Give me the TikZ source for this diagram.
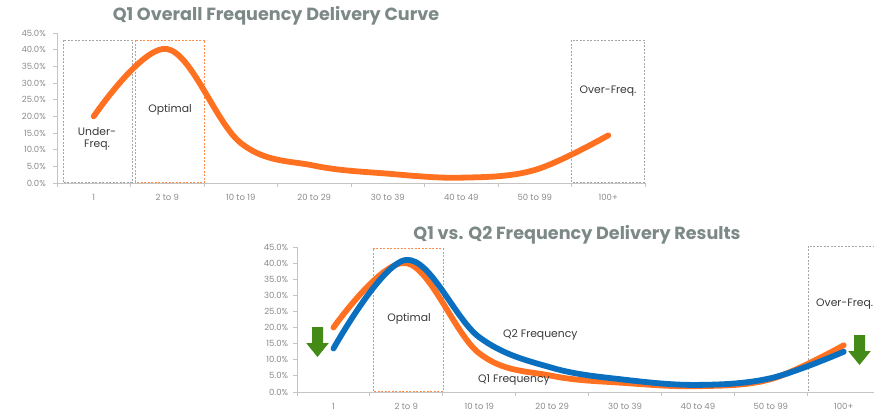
\documentclass[tikz,border=0pt]{standalone}
\usepackage{fontspec}
\setmainfont{Poppins}
\usepackage{xcolor}
\usepackage{tikz}
\usetikzlibrary{arrows.meta}
\usetikzlibrary{positioning}

\definecolor{freqorange}{HTML}{FF7121}
\definecolor{freqblue}{HTML}{0B6FBF}
\definecolor{arrowgreen}{HTML}{438B16}
\definecolor{titlegray}{HTML}{7D8987}
\definecolor{axisgray}{HTML}{C4C4C4}
\definecolor{labelgray}{HTML}{8A8A8A}
\definecolor{notegray}{HTML}{383838}
\definecolor{boxgray}{HTML}{A6A6A6}

\begin{document}
\begin{tikzpicture}[x=1pt, y=-1pt,
	title/.style={font=\bfseries\fontsize{17.6}{20}\selectfont, text=titlegray, inner sep=0pt},
	axislabel/.style={font=\fontsize{8.5}{10}\selectfont, text=labelgray, inner sep=0pt},
	note/.style={font=\fontsize{10.8}{12.5}\selectfont, text=notegray, inner sep=0pt, align=center},
	axisline/.style={draw=axisgray, line width=0.9pt},
	zonebox/.style={draw=boxgray, dashed, line width=0.6pt, dash pattern=on 2pt off 1.5pt},
	optbox/.style={draw=freqorange!80, dashed, line width=0.6pt, dash pattern=on 2pt off 1.5pt},
	q1curve/.style={draw=freqorange, line width=5.8pt, line cap=round, smooth, tension=0.6},
	q2curve/.style={draw=freqblue, line width=5.8pt, line cap=round, smooth, tension=0.6},
	greenarrow/.pic={\fill[arrowgreen] (-5.5,0) -- (5.5,0) -- (5.5,16) -- (11.3,16)
		-- (0,30) -- (-11.3,16) -- (-5.5,16) -- cycle;},
]
\useasboundingbox (0,0) rectangle (874,415);

% top chart
\node [title] (t1) at (276,16) {Q1 Overall Frequency Delivery Curve};
\begin{scope}[shift={(57,183)}, x=73.5pt, y=3.333pt]
	\draw [axisline] (0,0) -- (0,45);
	\foreach \v in {0,5,...,45} {
		\draw [axisline] (-0.05,\v) -- (0,\v);
		\node [axislabel, anchor=east] (ya\v) at (-0.15,\v) {\v.0\%};
	}
	\draw [axisline] (0,0) -- (8,0);
	\foreach \i in {0,...,8} \draw [axisline] (\i,0) -- (\i,-1.3);
	\foreach \lab [count=\i] in {1,2 to 9,10 to 19,20 to 29,30 to 39,40 to 49,50 to 99,100+}
		\node [axislabel] (xa\i) at (\i-0.5,-4.3) {\lab};
	%
	\draw [zonebox] (0.08,0.2) rectangle (1.02,42.9);
	\draw [optbox]  (1.06,0.2) rectangle (2.01,42.9);
	\draw [zonebox] (7.0,0.2) rectangle (7.99,42.9);
	%
	\draw [q1curve] plot coordinates {(0.5,20) (1.5,40.2) (2.5,12) (3.5,5.2)
		(4.5,2.8) (5.5,1.6) (6.5,3.9) (7.5,14.3)};
\end{scope}
\node [note] (under) at (97,139) {Under-\\Freq.};
\node [note] (opt1) at (170,110) {Optimal};
\node [note] (over1) at (608,91) {Over-Freq.};

% bottom chart
\node [title] (t2) at (577,235) {Q1 vs. Q2 Frequency Delivery Results};
\begin{scope}[shift={(297,392)}, x=72.9pt, y=3.222pt]
	\draw [axisline] (0,0) -- (0,45);
	\foreach \v in {0,5,...,45} {
		\draw [axisline] (-0.05,\v) -- (0,\v);
		\node [axislabel, anchor=east] (yb\v) at (-0.12,\v) {\v.0\%};
	}
	\draw [axisline] (0,0) -- (7.92,0);
	\foreach \i in {0,...,7} \draw [axisline] (\i,0) -- (\i,-1.3);
	\foreach \lab [count=\i] in {1,2 to 9,10 to 19,20 to 29,30 to 39,40 to 49,50 to 99,100+}
		\node [axislabel] (xb\i) at (\i-0.5,-4.4) {\lab};
	%
	\draw [optbox]  (1.04,0.2) rectangle (2.0,44.7);
	\draw [zonebox] (7.01,0.2) -- (7.01,45.3) -- (7.92,45.3);
	%
	\draw [q1curve] plot coordinates {(0.5,20) (1.5,40) (2.5,12) (3.5,5)
		(4.5,2.8) (5.5,1.8) (6.5,4) (7.5,14.5)};
	\draw [q2curve] plot coordinates {(0.5,13.5) (1.5,41) (2.5,17) (3.5,7.5)
		(4.5,3.8) (5.5,2.2) (6.5,4.3) (7.5,12.5)};
\end{scope}
\node [note] (opt2) at (409,319) {Optimal};
\node [note, anchor=west] (q2lab) at (503,335) {Q2 Frequency};
\node [note, anchor=west] (q1lab) at (478,380) {Q1 Frequency};
\node [note, anchor=west] (over2) at (816,304) {Over-Freq.};
\pic at (317.5,327) {greenarrow};
\pic at (859.5,335) {greenarrow};
\end{tikzpicture}
\end{document}
